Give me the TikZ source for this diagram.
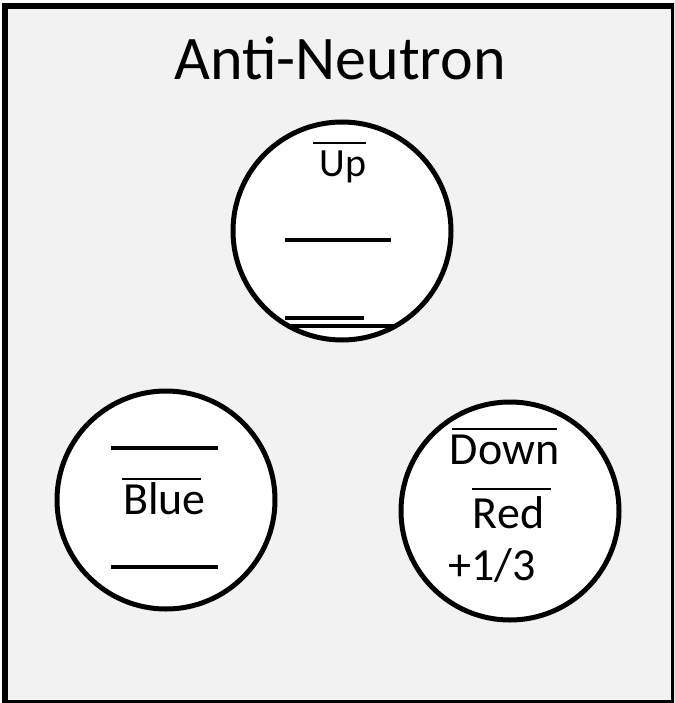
\documentclass[tikz,border=0pt]{standalone}
\usepackage{fontspec}
\setmainfont{Carlito}
\usetikzlibrary{calc}

\begin{document}
\begin{tikzpicture}[x=1pt,y=-1pt]
    % `quark' is used for the three circles.
    % `bar' is used for the thick strokes, `overbar' for the thin bars over the names.
    % `qtext' is used for all texts (placed at their base line).
    \tikzstyle{quark} = [draw,fill=white,shape=circle,line width=5pt,minimum size=218pt,inner sep=0pt]
    \tikzstyle{bar} = [line width=4pt]
    \tikzstyle{overbar} = [line width=1.5pt]
    \tikzstyle{qtext} = [font=\fontsize{46}{50}\selectfont,inner sep=0pt,anchor=base]
    %
    \useasboundingbox (0,0) rectangle (674,703);
    \clip (0,0) rectangle (674,703);
    % Draw background box.
    \draw[fill=gray!10,line width=6pt] (5,6) rectangle (674,703);
    \node[qtext,font=\fontsize{62}{70}\selectfont] (title) at (340,80) {Anti-Neutron};
    %
    \node[quark] (upq) at (342,231) {};
    \node[quark] (blueq) at (166,500) {};
    \node[quark] (downq) at (510,511) {};
    %
    \node[qtext,font=\fontsize{40}{44}\selectfont] (uptext) at (343,177) {Up};
    \node[qtext] (bluetext) at (164.5,514) {Blue};
    \node[qtext] (downtext) at (504.5,464) {Down};
    \node[qtext] (redtext) at (508.5,528) {Red};
    \node[qtext] (charge) at (492,580) {+1/3};
    % Draw thick strokes.
    \draw[bar] (285,240) -- (391,240);
    \draw[bar] (285,318) -- (364,318);
    \draw[bar] (287,326) -- (393,326);
    \draw[bar] (111,448) -- (218,448);
    \draw[bar] (111,567) -- (218,567);
    % Draw bars over the names.
    \draw[overbar] (313,143) -- (366,143);
    \draw[overbar] (122,479) -- (201,479);
    \draw[overbar] (452,429) -- (557,429);
    \draw[overbar] (472,489) -- (551,489);
\end{tikzpicture}
\end{document}
